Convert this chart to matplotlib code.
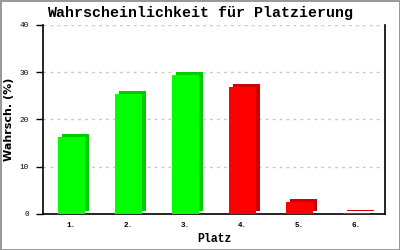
import matplotlib.pyplot as plt
from matplotlib.transforms import ScaledTranslation

places = ['1.', '2.', '3.', '4.', '5.', '6.']
probs = [16.2, 25.3, 29.5, 26.8, 2.6, 0.3]
front_colors = ['#00ff00', '#00ff00', '#00ff00', '#ff0000', '#ff0000', '#ff0000']
side_colors = ['#00cc00', '#00cc00', '#00cc00', '#cc0000', '#cc0000', '#cc0000']
y_ticks = [0, 10, 20, 30, 40]

plt.rcParams['font.family'] = ['Liberation Mono', 'DejaVu Sans Mono']

fig = plt.figure(figsize=(4, 2.5), dpi=100, facecolor='white',
                 edgecolor='#999999', linewidth=2)
ax = fig.add_axes([43 / 400, 1 - 214 / 250, 342 / 400, 189 / 250])

x = list(range(len(places)))
w = 0.47

# 3D look: a darker copy shifted a few pixels right and up, behind the front face
shift = ax.transData + ScaledTranslation(4 / 100, 3 / 100, fig.dpi_scale_trans)
ax.bar(x, probs, width=w, color=side_colors, transform=shift, zorder=2)
ax.bar(x, probs, width=w, color=front_colors, zorder=3)

ax.set_xlim(-0.5, len(places) - 0.5)
ax.set_ylim(0, 40)
ax.set_yticks(y_ticks)
ax.set_xticks(x)
ax.set_xticklabels(places)
ax.tick_params(axis='x', length=0, labelsize=5.5, pad=6)
ax.tick_params(axis='y', length=5, width=1, labelsize=5.5, pad=5)
for lab in ax.get_xticklabels():
    lab.set_fontweight('bold')

ax.grid(axis='y', color='#c8c8c8', linestyle=(0, (2, 3)), linewidth=1, zorder=0)
ax.set_axisbelow(True)
ax.spines['top'].set_visible(False)
for s in ['left', 'right', 'bottom']:
    ax.spines[s].set_linewidth(1.2)

ax.set_xlabel('Platz', fontsize=8.3, fontweight='bold', labelpad=3)
ax.set_ylabel('Wahrsch. (%)', fontsize=8, fontweight='bold', labelpad=4,
              family='DejaVu Sans')
fig.text(0.5, 1 - 13 / 250, 'Wahrscheinlichkeit für Platzierung', ha='center', va='center',
         fontsize=10.8, fontweight='bold')

fig.savefig('out.png', dpi=100)
